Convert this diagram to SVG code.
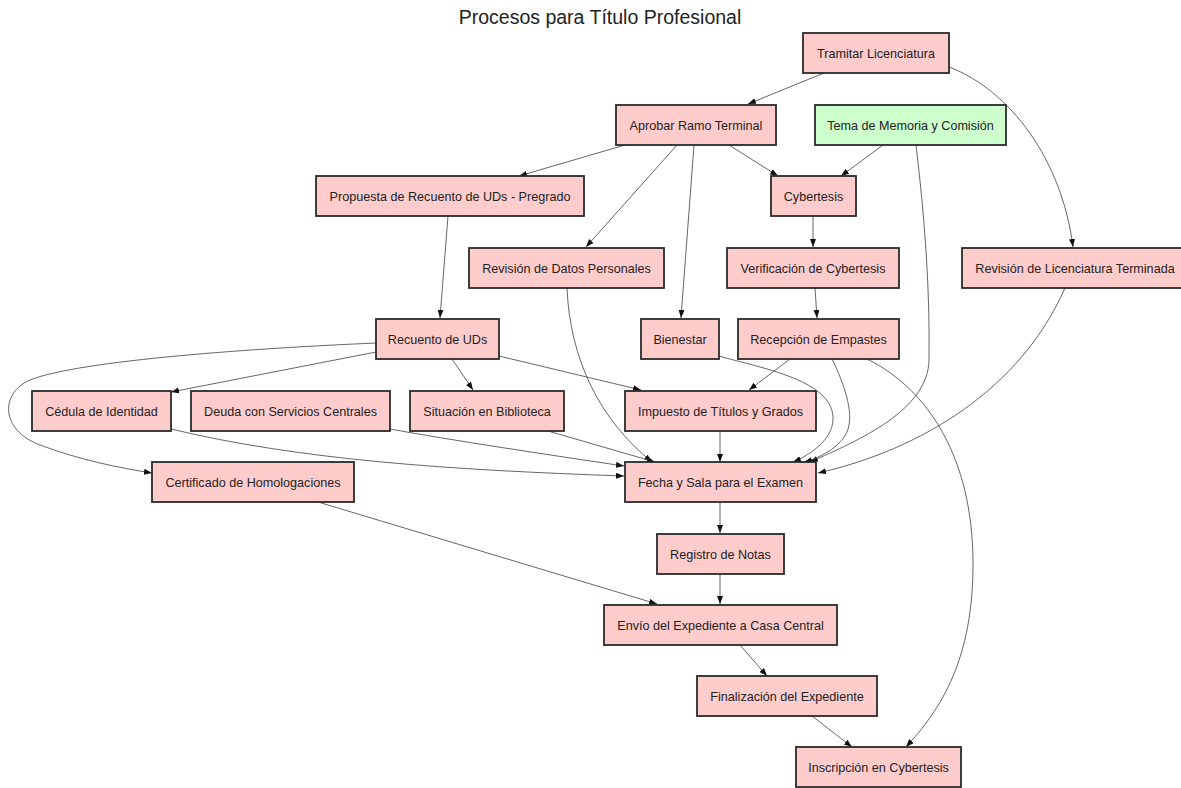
<svg xmlns="http://www.w3.org/2000/svg" width="1181" height="788" viewBox="0 0 1181 788">
<defs>
<style>
.n rect{fill:#ffcccc;stroke:#2b2b2b;stroke-width:1.8}
.g rect{fill:#ccffcc}
.n text{font-family:"Liberation Sans",Arial,sans-serif;font-size:12.6px;fill:#222;text-anchor:middle}
.e path{fill:none;stroke:#555;stroke-width:0.9;marker-end:url(#ah)}
.t{font-family:"Liberation Sans",Arial,sans-serif;font-size:19.5px;fill:#222;text-anchor:middle}
</style>
<marker id="ah" markerUnits="userSpaceOnUse" markerWidth="9" markerHeight="7" refX="8" refY="3" orient="auto">
<path d="M0,0 L8,3 L0,6 z" fill="#111"/>
</marker>
</defs>
<rect width="1181" height="788" fill="#ffffff"/>
<text class="t" x="600" y="23.5">Procesos para Título Profesional</text>
<g id="edges" class="e">
<path d="M824,73 L748,104"/>
<path d="M949,67 C1010,90 1062,160 1073,247"/>
<path d="M625,145 L519,176"/>
<path d="M677,145 L586,247"/>
<path d="M694,145 L681,318"/>
<path d="M729,145 L778,176"/>
<path d="M883,145 L841,176"/>
<path d="M916,145 C925,220 930,290 929,360 C928,410 860,440 810,462"/>
<path d="M448,216 L440,318"/>
<path d="M813,216 L813,247"/>
<path d="M815,288 L817,318"/>
<path d="M1065,288 C1020,390 920,450 818,473"/>
<path d="M567,288 C570,360 600,420 652,462"/>
<path d="M376,352 L171,392"/>
<path d="M376,343 C260,348 80,360 30,380 C0,393 0,430 40,445 C80,460 120,468 152,473"/>
<path d="M452,359 L473,390"/>
<path d="M499,356 L641,390"/>
<path d="M719,356 C760,368 835,380 833,420 C832,440 810,455 793,462"/>
<path d="M790,359 L749,390"/>
<path d="M832,359 C845,385 852,410 849,425 C846,445 820,458 804,462"/>
<path d="M867,359 C930,390 972,460 973,560 C974,660 940,710 906,747"/>
<path d="M171,429 C300,460 450,470 624,476"/>
<path d="M390,429 C450,440 550,455 624,466"/>
<path d="M548,431 L655,462"/>
<path d="M720,431 L720,462"/>
<path d="M318,502 L657,604"/>
<path d="M720,502 L720,533"/>
<path d="M720,574 L720,604"/>
<path d="M740,645 L767,676"/>
<path d="M812,716 L852,747"/>
</g>
<g id="n1" class="n"><rect x="803" y="33" width="146" height="40"/><text x="876" y="57.5">Tramitar Licenciatura</text></g>
<g id="n2" class="n"><rect x="616" y="105" width="160" height="40"/><text x="696" y="129.5">Aprobar Ramo Terminal</text></g>
<g id="n3" class="n g"><rect x="815" y="105" width="191" height="40"/><text x="910.5" y="129.5">Tema de Memoria y Comisión</text></g>
<g id="n4" class="n"><rect x="316" y="176" width="268" height="40"/><text x="450" y="200.5">Propuesta de Recuento de UDs - Pregrado</text></g>
<g id="n5" class="n"><rect x="771" y="176" width="85" height="40"/><text x="813.5" y="200.5">Cybertesis</text></g>
<g id="n6" class="n"><rect x="469" y="248" width="195" height="40"/><text x="566.5" y="272.5">Revisión de Datos Personales</text></g>
<g id="n7" class="n"><rect x="727" y="248" width="172" height="40"/><text x="813" y="272.5">Verificación de Cybertesis</text></g>
<g id="n8" class="n"><rect x="962" y="248" width="230" height="40"/><text x="1075" y="272.5">Revisión de Licenciatura Terminada</text></g>
<g id="n9" class="n"><rect x="376" y="319" width="123" height="40"/><text x="437.5" y="343.5">Recuento de UDs</text></g>
<g id="n10" class="n"><rect x="641" y="319" width="78" height="40"/><text x="680" y="343.5">Bienestar</text></g>
<g id="n11" class="n"><rect x="738" y="319" width="161" height="40"/><text x="818.5" y="343.5">Recepción de Empastes</text></g>
<g id="n12" class="n"><rect x="32" y="391" width="139" height="40"/><text x="101.5" y="415.5">Cédula de Identidad</text></g>
<g id="n13" class="n"><rect x="191" y="391" width="199" height="40"/><text x="290.5" y="415.5">Deuda con Servicios Centrales</text></g>
<g id="n14" class="n"><rect x="410" y="391" width="154" height="40"/><text x="487" y="415.5">Situación en Biblioteca</text></g>
<g id="n15" class="n"><rect x="625" y="391" width="191" height="40"/><text x="720.5" y="415.5">Impuesto de Títulos y Grados</text></g>
<g id="n16" class="n"><rect x="152" y="462" width="202" height="40"/><text x="253" y="486.5">Certificado de Homologaciones</text></g>
<g id="n17" class="n"><rect x="625" y="462" width="191" height="40"/><text x="720.5" y="486.5">Fecha y Sala para el Examen</text></g>
<g id="n18" class="n"><rect x="657" y="534" width="127" height="40"/><text x="720.5" y="558.5">Registro de Notas</text></g>
<g id="n19" class="n"><rect x="604" y="605" width="233" height="40"/><text x="720.5" y="629.5">Envío del Expediente a Casa Central</text></g>
<g id="n20" class="n"><rect x="697" y="676" width="180" height="40"/><text x="787" y="700.5">Finalización del Expediente</text></g>
<g id="n21" class="n"><rect x="796" y="747" width="165" height="40"/><text x="878.5" y="771.5">Inscripción en Cybertesis</text></g>
</svg>
